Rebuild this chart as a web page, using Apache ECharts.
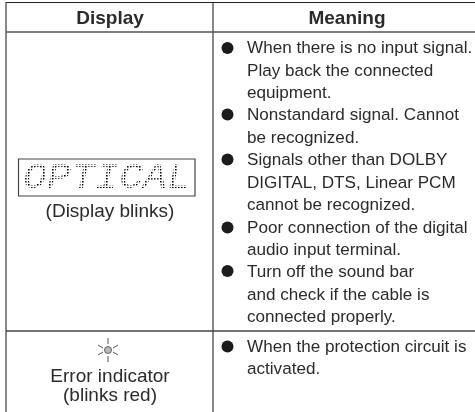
<!DOCTYPE html>
<html><head><meta charset="utf-8">
<style>html,body{margin:0;padding:0;background:#fff}#c{width:475px;height:412px}</style>
<script src="https://cdn.jsdelivr.net/npm/echarts@6/dist/echarts.min.js"></script>
</head><body><div id="c"></div>
<script>
var headers = ['Display', 'Meaning'];
var displayName = 'OPTICAL';
var displayNote = '(Display blinks)';
var errorLines = ['Error indicator', '(blinks red)'];
var meaningLines = [
  'When there is no input signal.', 'Play back the connected', 'equipment.',
  'Nonstandard signal. Cannot', 'be recognized.',
  'Signals other than DOLBY', 'DIGITAL, DTS, Linear PCM', 'cannot be recognized.',
  'Poor connection of the digital', 'audio input terminal.',
  'Turn off the sound bar', 'and check if the cable is', 'connected properly.'
];
var meaningLineY = [48,71,93,115,138,160,183,205,228,250,272,295,317];
var errorMeaningLines = ['When the protection circuit is', 'activated.'];
var errorMeaningY = [347,369];
var bulletY = [48,114.5,159.5,227.5,271,346.5];

var FONT = '"Liberation Sans", Arial, sans-serif', INK = '#2b2b2b';
var els = [];
function line(x1,y1,x2,y2,w,c){els.push({type:'line',shape:{x1:x1,y1:y1,x2:x2,y2:y2},style:{stroke:c||'#3a3a3a',lineWidth:w||1.2}});}
function text(s,x,y,o){o=o||{};els.push({type:'text',x:x,y:y,z:o.z||5,style:{text:s,font:(o.font||'17.1px '+FONT),fill:o.fill||INK,align:o.align||'left',verticalAlign:'middle'}});}

line(6,2.5,475,2.5,1.2,'#222');
line(6,2,6,412);line(213,2,213,412);
line(6,32,475,32,1.4,'#555');
line(6,331,475,331,1.4,'#444');

text(headers[0],110,19,{font:'bold 19px '+FONT,align:'center'});
text(headers[1],347,19,{font:'bold 19px '+FONT,align:'center'});

meaningLines.forEach(function(s,i){text(s,247,meaningLineY[i]);});
errorMeaningLines.forEach(function(s,i){text(s,247,errorMeaningY[i]);});
bulletY.forEach(function(y){els.push({type:'circle',shape:{cx:227.5,cy:y,r:6},style:{fill:'#1c1c1c'}});});

// display box: real text seen through a dot-matrix grid
els.push({type:'text',x:107,y:178,z:5,scaleY:0.9,style:{text:displayName,font:'italic 40px "Liberation Mono", monospace',fill:'#000',stroke:'#fff',lineWidth:1.3,align:'center',verticalAlign:'middle'}});
var mask=[];
for(var x=19;x<195;x+=3){mask.push({type:'rect',z:6,shape:{x:x+1.6,y:159,width:1.4,height:37},style:{fill:'#fff'}});}
for(var y=160;y<196;y+=3){mask.push({type:'rect',z:6,shape:{x:19,y:y+1.6,width:176,height:1.4},style:{fill:'#fff'}});}
els=els.concat(mask);
els.push({type:'rect',z:7,shape:{x:18.5,y:159,width:176.5,height:37},style:{fill:'none',stroke:'#444',lineWidth:1.2}});

text(displayNote,110,212,{font:'19px '+FONT,align:'center'});

// indicator
var cx=108,cy=350;
els.push({type:'circle',shape:{cx:cx,cy:cy,r:3.5},style:{fill:'#bbb',stroke:'#444',lineWidth:0.8}});
[[0,-12,0,-6],[0,6,0,12],[-10,-5,-5,-2],[5,-2,10,-5],[-10,5,-5,2],[5,2,10,5]].forEach(function(r){line(cx+r[0],cy+r[1],cx+r[2],cy+r[3],0.9,'#444');});
text(errorLines[0],110,377,{align:'center',font:'19px '+FONT});
text(errorLines[1],110,396,{align:'center',font:'19px '+FONT});

var chart=echarts.init(document.getElementById('c'),null,{renderer:'canvas'});
chart.setOption({animation:false,backgroundColor:'#fff',graphic:{elements:els}});
</script></body></html>
